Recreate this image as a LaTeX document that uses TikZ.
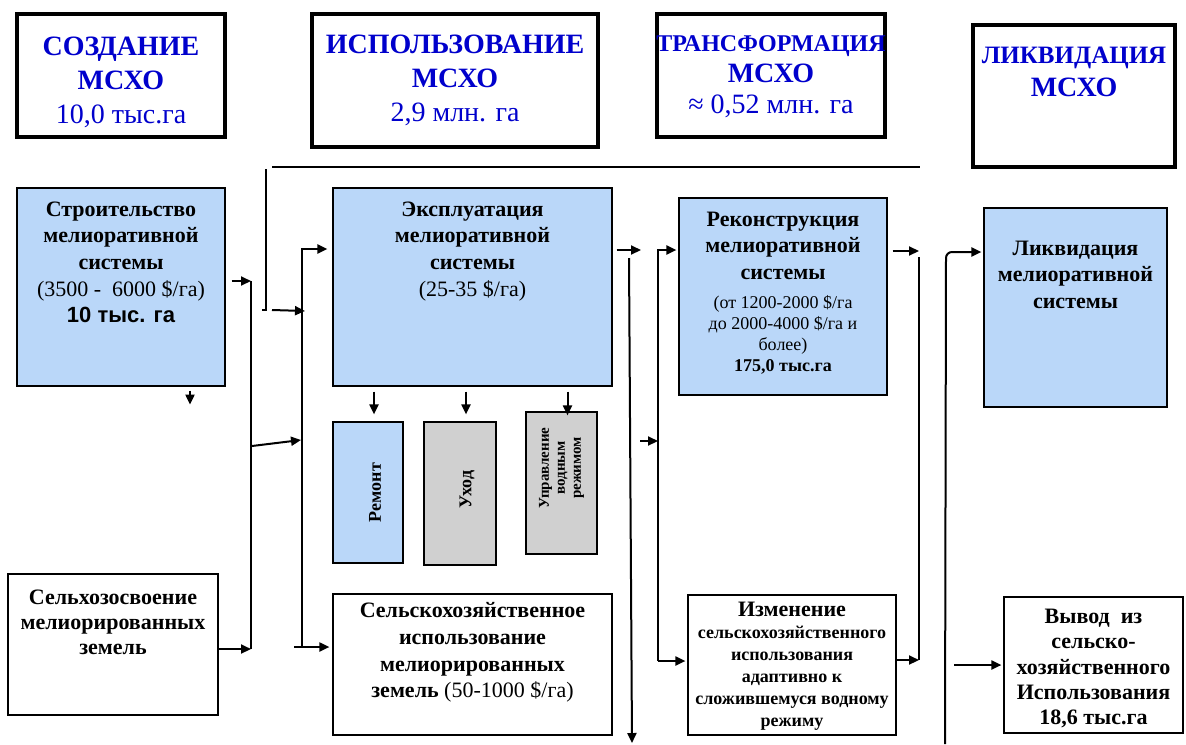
\documentclass[tikz,border=0pt]{standalone}
\usepackage{fontspec}
\setmainfont{Liberation Serif}
\newfontfamily\timesfam{Liberation Serif}
\newfontfamily\arialfam{Liberation Sans}
\usetikzlibrary{arrows.meta,fit}
\definecolor{mslightblue}{HTML}{BAD7F9}
\definecolor{mslightgray}{HTML}{D0D0D0}
\definecolor{mstitle}{HTML}{0000CC}

\begin{document}
\begin{tikzpicture}[x=0.5pt,y=-0.5pt,
 head/.style={draw,line width=2pt,inner sep=0pt},
 htxt/.style={anchor=north,align=center,inner sep=0pt,text=mstitle,font=\timesfam\bfseries\fontsize{14}{17}\selectfont},
 stage/.style={draw,line width=0.6pt,inner sep=0pt,fill=mslightblue},
 grey/.style={stage,fill=mslightgray},
 plain/.style={stage,fill=white},
 txt/.style={anchor=north,align=center,inner sep=0pt,font=\bfseries\fontsize{11}{13.3}\selectfont},
 vtxt/.style={anchor=center,rotate=90,align=center,inner sep=0pt,font=\bfseries\fontsize{9}{10}\selectfont},
 bus/.style={line width=1pt},
 arr/.style={-{Triangle[length=5pt,width=4.5pt]},line width=1pt}
]
\useasboundingbox (0,0) rectangle (1186,744);

\node[head,fit={(17,14)(225,137)},label={[htxt,yshift=-12.5pt]north:{СОЗДАНИЕ\\МСХО\\{\mdseries 10,0 тыс.га}}}] (hbuild) {};
\node[head,fit={(312,14)(598,147)},label={[htxt,yshift=-11.5pt]north:{ИСПОЛЬЗОВАНИЕ\\МСХО\\{\mdseries 2,9 млн. га}}}] (huse) {};
\node[head,fit={(657,14)(885,137)},label={[htxt,font=\timesfam\bfseries\fontsize{14}{15.5}\selectfont,yshift=-11.5pt]north:{{\fontsize{12}{14}\selectfont ТРАНСФОРМАЦИЯ}\\МСХО\\{\mdseries ≈ 0,52 млн. га}}}] (htrans) {};
\node[head,fit={(973,25)(1175,167)},label={[htxt,font=\timesfam\bfseries\fontsize{14}{16.5}\selectfont,yshift=-12pt]north:{{\fontsize{12.5}{15}\selectfont ЛИКВИДАЦИЯ}\\МСХО}}] (hliq) {};

\node[stage,fit={(17,188)(225,386)},label={[txt,yshift=-7pt]north:{Строительство\\мелиоративной\\системы\\{\mdseries (3500 -\ \ 6000 \$/га)}\\{\arialfam 10 тыс. га}}}] (build) {};
\node[stage,fit={(333,188)(612,386)},label={[txt,yshift=-7pt]north:{Эксплуатация\\мелиоративной\\системы\\{\mdseries (25-35 \$/га)}}}] (use) {};
\node[stage,fit={(679,198)(887,395)},label={[txt,yshift=-7pt]north:{Реконструкция\\мелиоративной\\системы\\[6pt]{\mdseries\fontsize{9}{10.5}\selectfont\begin{tabular}{@{}c@{}}(от 1200-2000 \$/га\\до 2000-4000 \$/га и\\более)\\\bfseries 175,0 тыс.га\end{tabular}}}}] (rec) {};
\node[stage,fit={(984,208)(1167,407)},label={[txt,yshift=-16.5pt]north:{Ликвидация\\мелиоративной\\системы}}] (liq) {};

\node[stage,fit={(333,422)(403,563)},label={[vtxt,yshift=-3.5pt]center:Ремонт}] (repair) {};
\node[grey,fit={(424,422)(496,565)},label={[vtxt,xshift=2pt,yshift=-3.5pt]center:Уход}] (care) {};
\node[grey,fit={(526,412)(597,554)},label={[vtxt,xshift=7.5pt,font=\bfseries\fontsize{7.5}{8}\selectfont]center:{Управление\\водным\\режимом}}] (water) {};

\node[plain,fit={(8,574)(218,715)},label={[txt,font=\bfseries\fontsize{11}{12.5}\selectfont,yshift=-8pt]north:{Сельхозосвоение\\мелиорированных\\земель}}] (agri) {};
\node[plain,fit={(333,594)(612,735)},label={[txt,yshift=-4.5pt]north:{Сельскохозяйственное\\использование\\мелиорированных\\земель {\mdseries (50-1000 \$/га)}}}] (land) {};
\node[plain,fit={(688,595)(896,735)},label={[txt,font=\bfseries\fontsize{9}{11}\selectfont,yshift=-3.5pt]north:{{\fontsize{11}{13}\selectfont Изменение}\\сельскохозяйственного\\использования\\адаптивно к\\сложившемуся водному\\режиму}}] (chg) {};
\node[plain,fit={(1004,597)(1183,733)},label={[txt,font=\bfseries\fontsize{11}{12.7}\selectfont,yshift=-6pt]north:{Вывод\ \ из\\сельско-\\хозяйственного\\Использования\\18,6 тыс.га}}] (out) {};

\coordinate (tl) at (272,167);
\coordinate (tr) at (920,167);
\coordinate (hk1) at (266,169);
\coordinate (hk2) at (266,310);
\coordinate (ja1) at (251,281);
\coordinate (ja2) at (251,649);
\coordinate (ja3) at (252,446);
\coordinate (jb1) at (302,249);
\coordinate (jb2) at (302,647);
\coordinate (jb3) at (301,440);
\coordinate (jb4) at (305,311);
\coordinate (jc0) at (641,250);
\coordinate (jc1) at (629,258);
\coordinate (jc2) at (632,743);
\coordinate (jc3) at (640,441);
\coordinate (jd1) at (658,250);
\coordinate (jd2) at (658,661);
\coordinate (jd3) at (658,441);
\coordinate (je1) at (919,257);
\coordinate (je2) at (919,660);
\coordinate (je3) at (919,251);
\coordinate (jf1) at (946,252);
\coordinate (jf2) at (945,744);

\draw[bus] (tl) -- (tr);
\draw[bus] (hk1) -- (hk2) -- ++(-4,0);
\draw[arr] ([xshift=3pt]hk2) -- (jb4);
\draw[arr] ([xshift=3pt]build.east |- ja1) -- (ja1);
\draw[bus] (ja1) -- (ja2);
\draw[arr] (agri.east |- ja2) -- (ja2);
\draw[arr] (ja3) -- (jb3);
\draw[arr] ([shift={(69,4)}]build.south) -- ++(0,14);
\draw[arr] (jb2) -- (jb1) -- ([xshift=-2.5pt]use.west |- jb1);
\draw[arr] ([xshift=-4pt]jb2) -- ([xshift=-1.5pt]land.west |- jb2);
\draw[arr] ([shift={(6,5)}]use.south -| repair.north) -- ([shift={(6,-7)}]repair.north);
\draw[arr] ([shift={(6,5)}]use.south -| care.north) -- ([shift={(6,-7)}]care.north);
\draw[arr] ([shift={(6,5)}]use.south -| water.north) -- ([shift={(6,4)}]water.north);

\draw[arr] ([xshift=2pt]use.east |- jc0) -- (jc0);
\draw[arr] (jc1) -- (jc2);
\draw[arr] (jc3) -- (jd3);
\draw[arr] (jd2) -- (jd1) -- ([xshift=-1pt]rec.west |- jd1);
\draw[arr] (jd2) -- ([xshift=-1pt]chg.west |- jd2);
\draw[arr] ([xshift=2.5pt]rec.east |- je3) -- (je3);
\draw[bus] (je1) -- (je2);
\draw[arr] (chg.east |- je2) -- (je2);
\draw[arr,rounded corners=3pt] (jf2) -- (jf1) -- ([xshift=-1pt]liq.west |- jf1);
\draw[arr] ([xshift=4.5pt]jf2 |- out.west) -- ([xshift=-1pt]out.west);
\end{tikzpicture}
\end{document}
